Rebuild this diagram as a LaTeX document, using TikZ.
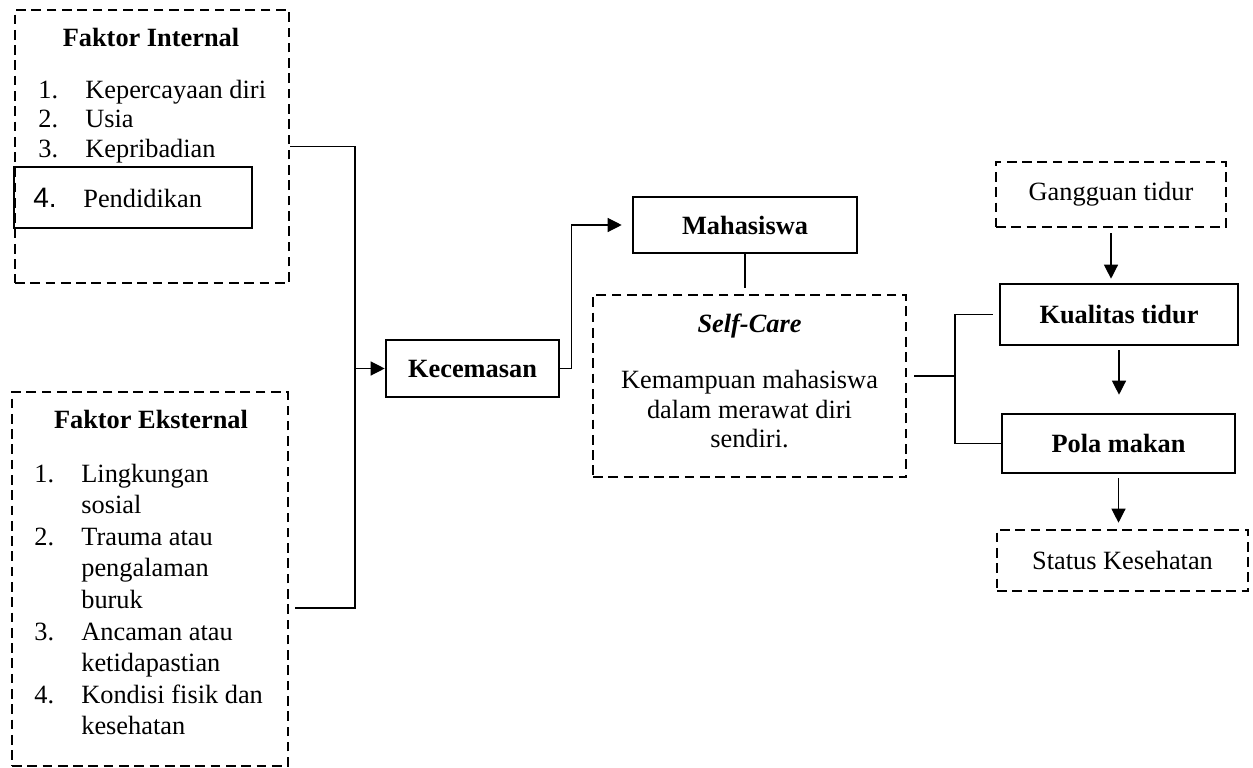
\documentclass[tikz,border=0pt]{standalone}
\usepackage{fontspec}
\setmainfont{Liberation Serif}
\setsansfont{Liberation Sans}
\usetikzlibrary{arrows.meta}
\newcommand{\diafont}{\fontsize{15pt}{18pt}\selectfont}
\tikzset{
  dbox/.style={draw, line width=1.5pt, dash pattern=on 5.5pt off 3.2pt, inner sep=0pt},
  sbox/.style={draw, line width=1.5pt, inner sep=0pt, font=\diafont\bfseries},
  txt/.style={anchor=base west, inner sep=0pt, font=\diafont},
  ctxt/.style={anchor=base, inner sep=0pt, font=\diafont},
  link/.style={line width=0.7pt},
  arr/.style={link, -{Triangle[length=8pt,width=8pt]}},
}
\begin{document}
\begin{tikzpicture}[x=0.02cm, y=-0.02cm]
\useasboundingbox (0,0) rectangle (1253,767);

% faktor internal
\node[dbox, minimum width=5.48cm, minimum height=5.46cm] (internal) at (152,146.5) {};
\node[ctxt, font=\diafont\bfseries] (inttitle) at (151,47) {Faktor Internal};
\foreach \n/\t/\y in {1/Kepercayaan diri/98, 2/Usia/128, 3/Kepribadian/157} {
  \node[txt] (intnum\n) at (38,\y) {\n.};
  \node[txt] (int\n) at (85,\y) {\t};
}
\node[sbox, minimum width=4.76cm, minimum height=1.22cm] (pend) at (133,197.5) {};
\node[txt, font=\sffamily\fontsize{16pt}{18pt}\selectfont] (intnum4) at (33,207) {4.};
\node[txt] (int4) at (83,207) {Pendidikan};

% faktor eksternal
\node[dbox, minimum width=5.52cm, minimum height=7.48cm] (external) at (150,579) {};
\node[ctxt, font=\diafont\bfseries] (exttitle) at (151,428) {Faktor Eksternal};
\foreach \n/\y in {1/482, 2/545.2, 3/640, 4/703.2}
  \node[txt] (extnum\n) at (34,\y) {\n.};
\foreach \t [count=\i from 0] in {Lingkungan, sosial, Trauma atau, pengalaman, buruk, Ancaman atau, ketidapastian, Kondisi fisik dan, kesehatan}
  \node[txt] (ext\i) at (81,482+31.6*\i) {\t};

% tengah
\node[sbox, minimum width=3.46cm, minimum height=1.14cm] (kecemasan) at (472.5,368.5) {Kecemasan};
\node[sbox, minimum width=4.48cm, minimum height=1.12cm] (mahasiswa) at (745,225) {Mahasiswa};
\node[dbox, minimum width=6.26cm, minimum height=3.64cm] (selfcare) at (749.5,386) {};
\node[ctxt, font=\diafont\bfseries\itshape] (sctitle) at (749.5,332) {Self-Care};
\foreach \t/\y [count=\i] in {Kemampuan mahasiswa/388, dalam merawat diri/418, sendiri./447}
  \node[ctxt] (sc\i) at (749.5,\y) {\t};

% kanan
\node[dbox, minimum width=4.6cm, minimum height=1.3cm, font=\diafont] (gangguan) at (1111,194.5) {Gangguan tidur};
\node[sbox, minimum width=4.76cm, minimum height=1.22cm] (kualitas) at (1119,314.5) {Kualitas tidur};
\node[sbox, minimum width=4.66cm, minimum height=1.18cm] (pola) at (1118.5,443.5) {Pola makan};
\node[dbox, minimum width=5.02cm, minimum height=1.22cm, font=\diafont] (status) at (1122.5,560.5) {Status Kesehatan};

% garis
\coordinate (bus) at (355,368.5);
\coordinate (extout) at (295,608);
\coordinate (fork) at (955,376);
\draw[link] (internal.east) -| (bus);
\draw[link] (extout) -| (bus);
\draw[arr] (bus) -- (kecemasan.west);
\draw[arr, shorten >=0.2cm] (kecemasan.east) -- ++(11,0) |- (mahasiswa.west);
\draw[link, shorten >=0.12cm] (mahasiswa.south) -- (mahasiswa.south |- selfcare.north);
\draw[link, shorten <=0.14cm] (selfcare.east |- fork) -- (fork);
\draw[link, shorten <=0.12cm] (kualitas.west) -| (fork) |- (pola.west);
\draw[arr, shorten <=0.1cm, shorten >=0.08cm] (gangguan.south) -- (gangguan.south |- kualitas.north);
\draw[arr, shorten <=0.08cm, shorten >=0.36cm] (kualitas.south) -- (kualitas.south |- pola.north);
\draw[arr, shorten <=0.08cm, shorten >=0.12cm] (pola.south) -- (pola.south |- status.north);
\end{tikzpicture}
\end{document}
